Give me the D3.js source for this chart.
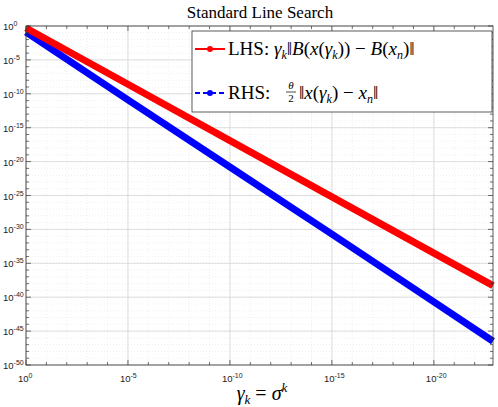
<!DOCTYPE html>
<html><head><meta charset="utf-8">
<script src="https://cdn.jsdelivr.net/npm/d3@7"></script>
<style>body{margin:0;background:#fff}text{font-family:"Liberation Sans",sans-serif}text.serif{font-family:"Liberation Serif","DejaVu Serif",serif}</style>
</head><body><svg id="c" width="498" height="407"></svg>
<script>
// log10 of gamma_k (x) and of each side (y)
const xExp = [0, -5, -10, -15, -20, -22.9];
const lhsExp = [-0.3, -8.6, -16.9, -25.2, -33.5, -38.3];
const rhsExp = [-0.9, -10.9, -20.8, -30.7, -40.7, -46.5];
const xTicks = [0, -5, -10, -15, -20];
const yTicks = [0, -5, -10, -15, -20, -25, -30, -35, -40, -45, -50];

const svg = d3.select('#c');
const m = {left: 26, right: 5, top: 26, bottom: 42};
const W = 498, H = 407;
const x = d3.scaleLinear().domain([0, -22.9]).range([m.left, W - m.right]);
const y = d3.scaleLinear().domain([0, -50]).range([m.top, H - m.bottom]);

const g = svg.append('g');
// minor grid
const xMinor = d3.range(0, -23, -1), yMinor = d3.range(0, -51, -1);
g.selectAll('.mx').data(xMinor).join('line')
  .attr('x1', d => x(d)).attr('x2', d => x(d)).attr('y1', y(0)).attr('y2', y(-50))
  .attr('stroke', '#e4e4e4').attr('stroke-dasharray', '1,2').attr('stroke-width', 0.6);
g.selectAll('.my').data(yMinor).join('line')
  .attr('y1', d => y(d)).attr('y2', d => y(d)).attr('x1', x(0)).attr('x2', x(-22.9))
  .attr('stroke', '#e4e4e4').attr('stroke-dasharray', '1,2').attr('stroke-width', 0.6);
// major grid
g.selectAll('.gx').data(xTicks).join('line')
  .attr('x1', d => x(d)).attr('x2', d => x(d)).attr('y1', y(0)).attr('y2', y(-50))
  .attr('stroke', '#d6d6d6').attr('stroke-width', 0.8);
g.selectAll('.gy').data(yTicks).join('line')
  .attr('y1', d => y(d)).attr('y2', d => y(d)).attr('x1', x(0)).attr('x2', x(-22.9))
  .attr('stroke', '#d6d6d6').attr('stroke-width', 0.8);

// lines
const line = d3.line().x(d => x(d[0])).y(d => y(d[1]));
svg.append('path').datum(xExp.map((v, i) => [v, rhsExp[i]]))
  .attr('d', line).attr('fill', 'none').attr('stroke', '#0000ff').attr('stroke-width', 7);
svg.append('path').datum(xExp.map((v, i) => [v, lhsExp[i]]))
  .attr('d', line).attr('fill', 'none').attr('stroke', '#ff0000').attr('stroke-width', 7);

// frame + ticks
svg.append('rect').attr('x', m.left).attr('y', m.top)
  .attr('width', W - m.left - m.right).attr('height', H - m.top - m.bottom)
  .attr('fill', 'none').attr('stroke', '#333').attr('stroke-width', 0.8);
const tk = svg.append('g').attr('stroke', '#333').attr('stroke-width', 0.7);
xMinor.forEach(d => {
  const l = xTicks.includes(d) ? 5 : 3;
  tk.append('line').attr('x1', x(d)).attr('x2', x(d)).attr('y1', y(-50)).attr('y2', y(-50) - l);
  tk.append('line').attr('x1', x(d)).attr('x2', x(d)).attr('y1', y(0)).attr('y2', y(0) + l);
});
yMinor.forEach(d => {
  const l = yTicks.includes(d) ? 5 : 3;
  tk.append('line').attr('y1', y(d)).attr('y2', y(d)).attr('x1', x(0)).attr('x2', x(0) + l);
  tk.append('line').attr('y1', y(d)).attr('y2', y(d)).attr('x1', x(-22.9)).attr('x2', x(-22.9) - l);
});

// tick labels
function pow(sel, e) {
  sel.append('tspan').text('10');
  sel.append('tspan').attr('dy', -4).attr('font-size', 7).text(e);
}
xTicks.forEach(d => {
  const t = svg.append('text').attr('x', x(d) - 8).attr('y', y(-50) + 17)
    .attr('font-size', 9.5).attr('fill', '#222');
  pow(t, d);
});
yTicks.forEach(d => {
  const t = svg.append('text').attr('x', 3).attr('y', y(d) + 4)
    .attr('font-size', 9.5).attr('fill', '#222');
  pow(t, d);
});

// title & x label
svg.append('text').attr('class', 'serif').attr('x', 260).attr('y', 18).attr('text-anchor', 'middle')
  .attr('font-size', 17).text('Standard Line Search');
const xl = svg.append('text').attr('class', 'serif').attr('x', 262).attr('y', 400).attr('text-anchor', 'middle')
  .attr('font-size', 20).attr('font-style', 'italic');
xl.append('tspan').text('γ');
xl.append('tspan').attr('font-size', 13).attr('dy', 4).text('k');
xl.append('tspan').attr('dy', -4).attr('font-style', 'normal').text(' = ');
xl.append('tspan').text('σ');
xl.append('tspan').attr('font-size', 13).attr('dy', -8).text('k');

// legend
const lg = svg.append('g');
lg.append('rect').attr('x', 192).attr('y', 31).attr('width', 300).attr('height', 81)
  .attr('fill', '#fff').attr('stroke', '#333').attr('stroke-width', 0.8);
const items = [
  {c: '#ff0000', dash: null, y: 49},
  {c: '#0000ff', dash: '5,3', y: 93}
];
items.forEach(it => {
  lg.append('line').attr('x1', 195).attr('x2', 225).attr('y1', it.y).attr('y2', it.y)
    .attr('stroke', it.c).attr('stroke-width', 2).attr('stroke-dasharray', it.dash);
  lg.append('circle').attr('cx', 210).attr('cy', it.y).attr('r', 3).attr('fill', it.c);
});
const t1 = lg.append('text').attr('class', 'serif').attr('x', 228).attr('y', 55).attr('font-size', 19);
t1.append('tspan').text('LHS: ');
t1.append('tspan').attr('font-style', 'italic').text('γ');
t1.append('tspan').attr('font-style', 'italic').attr('font-size', 12).attr('dy', 4).text('k');
t1.append('tspan').attr('dy', -4).text('‖');
t1.append('tspan').attr('font-style', 'italic').text('B');
t1.append('tspan').text('(');
t1.append('tspan').attr('font-style', 'italic').text('x');
t1.append('tspan').text('(');
t1.append('tspan').attr('font-style', 'italic').text('γ');
t1.append('tspan').attr('font-style', 'italic').attr('font-size', 12).attr('dy', 4).text('k');
t1.append('tspan').attr('dy', -4).text(')) − ');
t1.append('tspan').attr('font-style', 'italic').text('B');
t1.append('tspan').text('(');
t1.append('tspan').attr('font-style', 'italic').text('x');
t1.append('tspan').attr('font-style', 'italic').attr('font-size', 12).attr('dy', 4).text('n');
t1.append('tspan').attr('dy', -4).text(')‖');

const t2 = lg.append('text').attr('class', 'serif').attr('x', 228).attr('y', 99).attr('font-size', 19);
t2.append('tspan').text('RHS: ');
lg.append('text').attr('class', 'serif').attr('x', 291).attr('y', 89).attr('font-size', 11)
  .attr('font-style', 'italic').attr('text-anchor', 'middle').text('θ');
lg.append('line').attr('x1', 286).attr('x2', 296).attr('y1', 92).attr('y2', 92).attr('stroke', '#000').attr('stroke-width', 0.7);
lg.append('text').attr('class', 'serif').attr('x', 291).attr('y', 102).attr('font-size', 11)
  .attr('text-anchor', 'middle').text('2');
const t3 = lg.append('text').attr('class', 'serif').attr('x', 299).attr('y', 99).attr('font-size', 19);
t3.append('tspan').text('‖');
t3.append('tspan').attr('font-style', 'italic').text('x');
t3.append('tspan').text('(');
t3.append('tspan').attr('font-style', 'italic').text('γ');
t3.append('tspan').attr('font-style', 'italic').attr('font-size', 12).attr('dy', 4).text('k');
t3.append('tspan').attr('dy', -4).text(') − ');
t3.append('tspan').attr('font-style', 'italic').text('x');
t3.append('tspan').attr('font-style', 'italic').attr('font-size', 12).attr('dy', 4).text('n');
t3.append('tspan').attr('dy', -4).text('‖');
</script></body></html>
